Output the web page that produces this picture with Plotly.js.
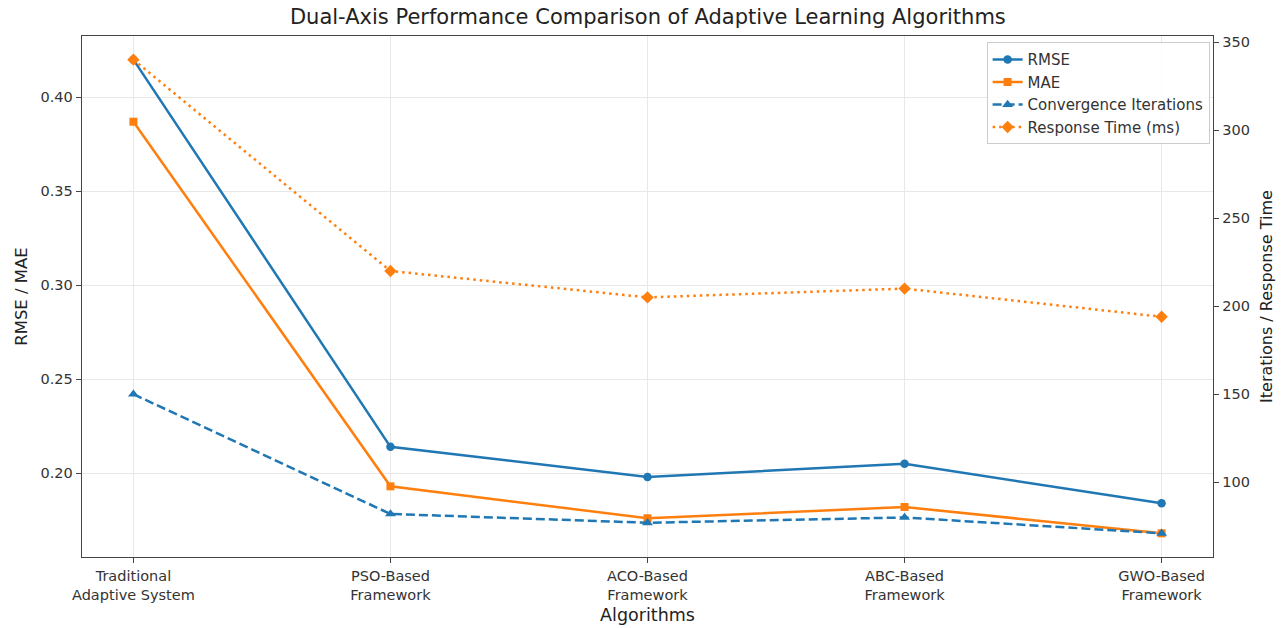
<!DOCTYPE html>
<html>
<head>
<meta charset="utf-8">
<script src="https://cdn.plot.ly/plotly-3.0.1.min.js"></script>
<style>html,body{margin:0;padding:0;background:#fff;}#chart{width:1288px;height:628px;}</style>
</head>
<body>
<div id="chart"></div>
<script>
const categories = ["Traditional<br>Adaptive System", "PSO-Based<br>Framework", "ACO-Based<br>Framework", "ABC-Based<br>Framework", "GWO-Based<br>Framework"];
const rmse = [0.420, 0.214, 0.198, 0.205, 0.184];
const mae = [0.387, 0.193, 0.176, 0.182, 0.168];
const convergenceIterations = [150, 82, 77, 80, 71];
const responseTime = [340, 220, 205, 210, 194];

function padRange(arrs) {
  const all = [].concat(...arrs);
  const lo = Math.min(...all), hi = Math.max(...all);
  const p = (hi - lo) * 0.05;
  return [lo - p, hi + p];
}

const blue = '#1f77b4', orange = '#ff7f0e';
const font = 'DejaVu Sans, Liberation Sans, sans-serif';

const traces = [
  {x: categories, y: rmse, name: 'RMSE', type: 'scatter', mode: 'lines+markers', yaxis: 'y',
   line: {color: blue, width: 2.5}, marker: {symbol: 'circle', size: 8.5, color: blue}},
  {x: categories, y: mae, name: 'MAE', type: 'scatter', mode: 'lines+markers', yaxis: 'y',
   line: {color: orange, width: 2.5}, marker: {symbol: 'square', size: 8, color: orange}},
  {x: categories, y: convergenceIterations, name: 'Convergence Iterations', type: 'scatter', mode: 'lines+markers', yaxis: 'y2',
   line: {color: blue, width: 2.5, dash: '9px,4px'}, marker: {symbol: 'triangle-up', size: 9.5, color: blue}},
  {x: categories, y: responseTime, name: 'Response Time (ms)', type: 'scatter', mode: 'lines+markers', yaxis: 'y2',
   line: {color: orange, width: 2.5, dash: '2.5px,4px'}, marker: {symbol: 'diamond', size: 9.5, color: orange}}
];

const axisCommon = {
  showline: true, linecolor: '#444', linewidth: 1.3,
  ticks: 'outside', ticklen: 5, tickwidth: 1, tickcolor: '#444',
  tickfont: {family: font, size: 14.5, color: '#333'},
  zeroline: false
};

const layout = {
  width: 1288, height: 628,
  margin: {l: 82, r: 75, t: 36, b: 71},
  paper_bgcolor: '#fff', plot_bgcolor: '#fff',
  font: {family: font, color: '#333'},
  title: {text: 'Dual-Axis Performance Comparison of Adaptive Learning Algorithms',
          font: {family: font, size: 21, color: '#222'}, x: 0.503, xanchor: 'center', y: 0.985, yanchor: 'top'},
  xaxis: Object.assign({}, axisCommon, {
    type: 'category', range: [-0.2, 4.2], mirror: true,
    showgrid: true, gridcolor: '#e8e8e8', gridwidth: 1,
    title: {text: 'Algorithms', font: {family: font, size: 17.5, color: '#222'}, standoff: 7}
  }),
  yaxis: Object.assign({}, axisCommon, {
    range: padRange([rmse, mae]), dtick: 0.05, tick0: 0, tickformat: '.2f',
    showgrid: true, gridcolor: '#e8e8e8', gridwidth: 1,
    title: {text: 'RMSE / MAE', font: {family: font, size: 16.5, color: '#222'}, standoff: 8}
  }),
  yaxis2: Object.assign({}, axisCommon, {
    overlaying: 'y', side: 'right', anchor: 'x',
    range: padRange([convergenceIterations, responseTime]), dtick: 50, tick0: 0,
    showgrid: false,
    title: {text: 'Iterations / Response Time', font: {family: font, size: 16, color: '#222'}, standoff: 12}
  }),
  legend: {
    x: 0.997, xanchor: 'right', y: 0.988, yanchor: 'top',
    bgcolor: 'rgba(255,255,255,0.85)', bordercolor: '#cccccc', borderwidth: 1,
    font: {family: font, size: 15, color: '#333'},
    tracegroupgap: 0
  },
  showlegend: true
};

Plotly.newPlot('chart', traces, layout, {displayModeBar: false, staticPlot: true});
</script>
</body>
</html>
